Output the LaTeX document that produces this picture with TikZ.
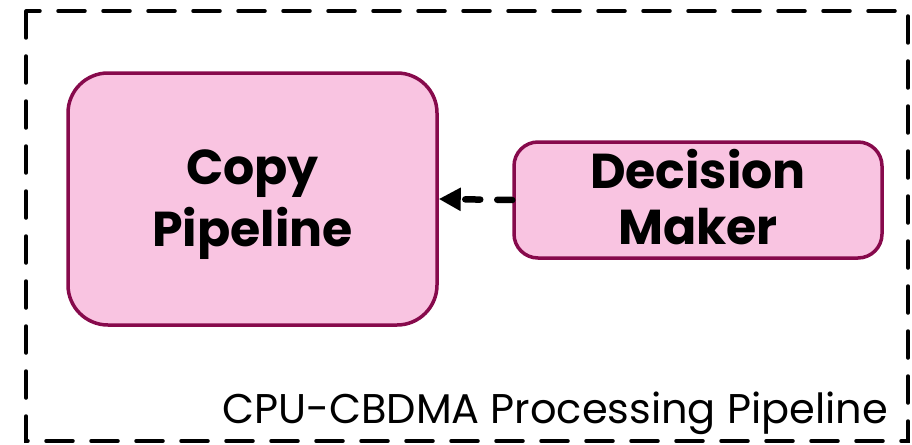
\documentclass[tikz,border=0pt]{standalone}
\usepackage{fontspec}
\setmainfont{Poppins}
\usetikzlibrary{arrows.meta}
\definecolor{boxfill}{HTML}{F9C4E1}
\definecolor{boxline}{HTML}{870A4C}
\begin{document}
\begin{tikzpicture}[x=1pt,y=-1pt,
  block/.style={draw=boxline, fill=boxfill, line width=3.5pt, inner sep=0pt},
  label/.style={align=center, inner sep=0pt, font=\fontsize{49}{#1}\selectfont\bfseries},
  frameline/.style={line width=3.5pt, line cap=round, dash pattern=on 27pt off 18pt},
  flow/.style={line width=6.5pt, line cap=round, dash pattern=on 15pt off 17pt,
    -{Triangle[length=22pt,width=22pt,line cap=butt]}}]
\useasboundingbox (0,0) rectangle (912,444);
% outer dashed boundary of the pipeline
\draw[frameline] (26,11) rectangle (908,441);
% the two stages
\node[block, minimum width=369pt, minimum height=252pt, rounded corners=40pt]
  (copy) at (252.5,199) {};
\node[label=62] (copytxt) at (252.5,205) {Copy\\Pipeline};
\node[block, minimum width=368pt, minimum height=116pt, rounded corners=24pt]
  (dec) at (698,200) {};
\node[label=56] (dectxt) at (698,197) {Decision\\Maker};
% control flow from decision maker to copy pipeline
\draw[flow] (dec.west) -- (copy.east);
% caption of the enclosing block
\node[anchor=base east, inner sep=0pt, font=\fontsize{41.5}{42}\selectfont]
  (cap) at (888,423) {CPU-CBDMA Processing Pipeline};
\end{tikzpicture}
\end{document}
